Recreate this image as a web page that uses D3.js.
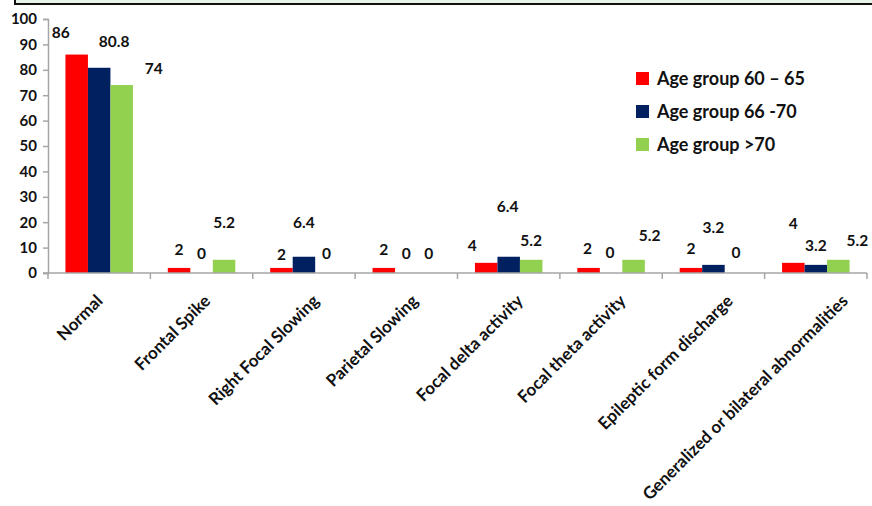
<!DOCTYPE html>
<html><head><meta charset="utf-8">
<script src="https://cdn.jsdelivr.net/npm/d3@7/dist/d3.min.js"></script>
<style>
html,body{margin:0;padding:0;background:#fff;}
svg{display:block;font-family:Lato,"Open Sans",sans-serif;font-weight:bold;}
</style></head>
<body>
<svg id="chart" width="872" height="506"></svg>
<script>
const categories = ["Normal","Frontal Spike","Right Focal Slowing","Parietal Slowing","Focal delta activity","Focal theta activity","Epileptic form discharge","Generalized or bilateral abnormalities"];
const seriesNames = ["Age group 60 \u2013 65","Age group 66 -70","Age group >70"];
const age60to65 = [86, 2, 2, 2, 4, 2, 2, 4];
const age66to70 = [80.8, 0, 6.4, 0, 6.4, 0, 3.2, 3.2];
const ageOver70 = [74, 5.2, 0, 0, 5.2, 5.2, 0, 5.2];
const yTicks = [0,10,20,30,40,50,60,70,80,90,100];
const colors = ["#ff0000","#002060","#92d050"];
// label nudges (dx,dy) per series per category, reproducing hand-placed data labels
const labelNudge60 = [[-16,-4],[0,0],[0,5],[0,0],[-14,1],[-1,-1],[0,-1],[0,-21]];
const labelNudge66 = [[15,-8],[0,-1],[0,-16],[0,-1],[-1,-32],[-1,-2],[0,-19],[0,-1]];
const labelNudge70 = [[32,2],[0,-19],[0,-1],[0,-1],[0,-1],[16,-6],[0,-2],[19,-1]];

const seriesValues = [age60to65, age66to70, ageOver70];
const nudges = [labelNudge60, labelNudge66, labelNudge70];

const svg = d3.select("#chart");

// top frame remnant
svg.append("rect").attr("x",15).attr("y",-10).attr("width",870).attr("height",14)
  .attr("fill","#e6f4e8").attr("stroke","#111").attr("stroke-width",2);

const x0 = d3.scaleBand().domain(categories).range([48, 867]).paddingInner(0).paddingOuter(0);
const x1 = d3.scaleBand().domain(d3.range(3)).range([0, x0.bandwidth()]).paddingInner(0).paddingOuter(0.775);
const y = d3.scaleLinear().domain([0,100]).range([273, 19]);

// bars
const g = svg.append("g");
categories.forEach((c,i)=>{
  seriesValues.forEach((vals,s)=>{
    const v = vals[i];
    if (v > 0) {
      g.append("rect")
        .attr("x", x0(c)+x1(s)).attr("width", x1.bandwidth())
        .attr("y", y(v)).attr("height", y(0)-y(v))
        .attr("fill", colors[s]);
    }
  });
});

// y axis
const yAxis = d3.axisLeft(y).tickValues(yTicks).tickSize(5).tickPadding(6);
const ya = svg.append("g").attr("transform","translate(48,0)").call(yAxis);
ya.select(".domain").attr("stroke","#a6a6a6").attr("stroke-width",1.5);
ya.selectAll(".tick line").attr("stroke","#a6a6a6").attr("stroke-width",1.5);
ya.selectAll(".tick text").attr("font-size",15).attr("font-weight","bold").attr("fill","#111").attr("font-family","Lato");

// x axis
svg.append("line").attr("x1",43).attr("x2",867).attr("y1",y(0)).attr("y2",y(0)).attr("stroke","#a6a6a6").attr("stroke-width",1.5);
const xTickPos = categories.map(c=>x0(c)).concat([x0(categories[categories.length-1])+x0.bandwidth()]);
svg.selectAll(".xt").data(xTickPos).enter().append("line")
  .attr("x1",d=>d).attr("x2",d=>d).attr("y1",y(0)).attr("y2",y(0)+6)
  .attr("stroke","#a6a6a6").attr("stroke-width",1.5);

// category labels
const cl = svg.append("g");
categories.forEach(c=>{
  const t = cl.append("text").text(c).attr("font-size",17).attr("font-weight","bold").attr("fill","#111")
    .attr("text-anchor","end");
  const len = t.node().getComputedTextLength();
  const cx = x0(c)+x0.bandwidth()/2 + 0.127*len - 2.6;
  t.attr("transform",`translate(${cx},${302}) rotate(-45)`);
});

// data labels
seriesValues.forEach((vals,s)=>{
  vals.forEach((v,i)=>{
    const c = categories[i];
    const bx = x0(c)+x1(s)+x1.bandwidth()/2;
    const [dx,dy] = nudges[s][i];
    svg.append("text").text(v)
      .attr("x", bx+dx).attr("y", y(v)-18+dy)
      .attr("dy","0.35em").attr("text-anchor","middle")
      .attr("font-size",15.5).attr("fill","#111");
  });
});

// legend
const lg = svg.append("g");
seriesNames.forEach((n,i)=>{
  const cy = 79 + i*33;
  lg.append("rect").attr("x",636).attr("y",cy-7).attr("width",13).attr("height",13).attr("fill",colors[i]);
  lg.append("text").attr("x",657).attr("y",cy).attr("dy","0.35em").text(n)
    .attr("font-size",18).attr("fill","#111");
});
</script>
</body></html>
